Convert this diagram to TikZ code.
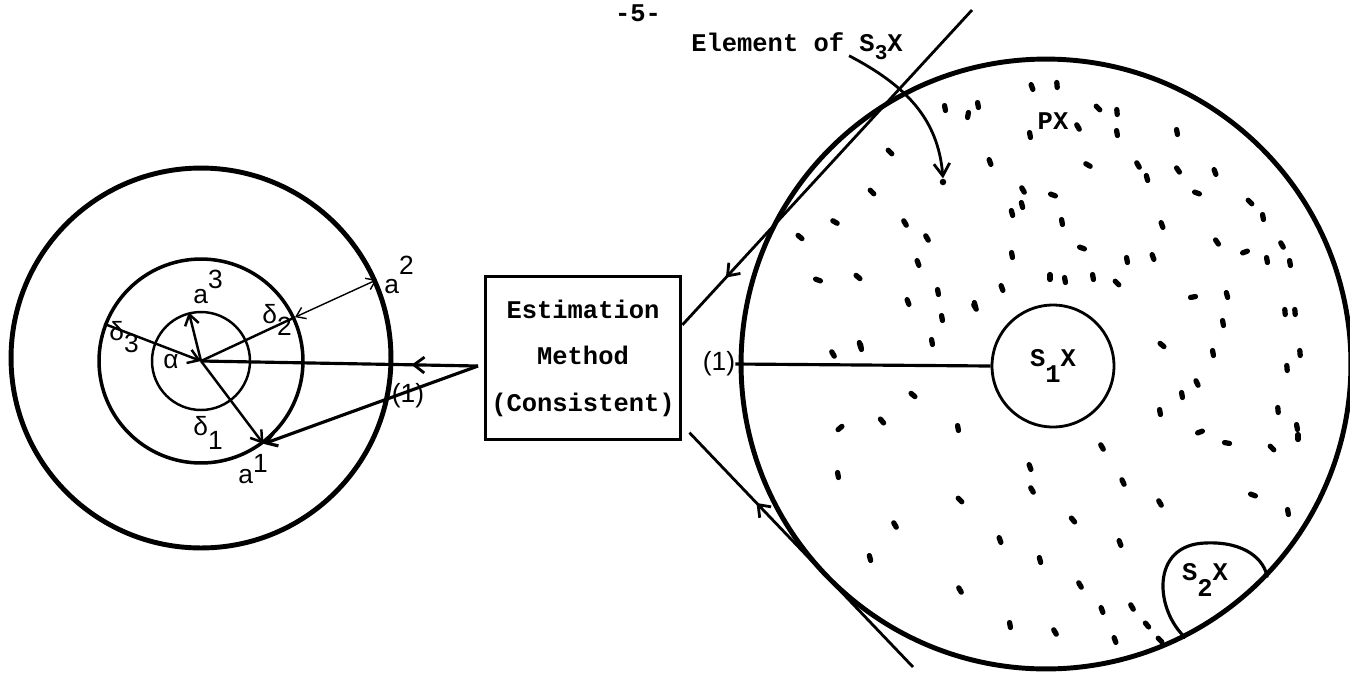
\documentclass[tikz,border=0pt]{standalone}
\usepackage{fontspec}
\setmonofont{Liberation Mono}
\newfontfamily\handfont{Liberation Sans}
\usetikzlibrary{arrows.meta,calc,decorations.markings}

\tikzset{
  ttlabel/.style={font=\ttfamily\bfseries\fontsize{14.5}{18}\selectfont,inner sep=0pt},
  hand/.style={font=\handfont\fontsize{15}{15}\selectfont,inner sep=0pt},
  ring/.style={circle,draw,inner sep=0pt,minimum size=#1},
  barb/.style={-{Straight Barb[length=6pt,width=8pt]}},
  midbarb/.style={postaction={decorate},decoration={markings,mark=at position #1 with {\arrow[line width=1.6pt]{Straight Barb[length=6pt,width=9pt]}}}},
  speck/.style={line width=3pt,line cap=round}
}

\begin{document}
\begin{tikzpicture}[x=0.02cm,y=-0.02cm]
  \useasboundingbox (0,0) rectangle (1350,681);

  % page number and method box
  \node[ttlabel] (pg) at (638,13) {-5-};
  \node[draw,line width=1.7pt,minimum width=3.92cm,minimum height=3.26cm,align=center,
        inner sep=0pt,font=\ttfamily\bfseries\fontsize{14.5}{26.5}\selectfont] (est) at (583,358)
        {Estimation\\Method\\(Consistent)};

  % left: the three circles round alpha
  \coordinate (ctr) at (201,361);
  \node[ring=7.6cm,line width=2.8pt] (outer) at (201,358) {};
  \node[ring=4.08cm,line width=2pt] (mid) at (ctr) {};
  \node[ring=1.96cm,line width=1.4pt] (inner) at (ctr) {};

  \draw[barb,line width=1.4pt] (ctr) -- (inner.104);
  \draw[barb,line width=1.4pt] (mid.159) -- (ctr);
  \draw[line width=1.4pt] (ctr) -- (mid.25);
  \draw[{Straight Barb[length=5pt,width=7pt]}-{Straight Barb[length=5pt,width=7pt]},line width=0.8pt] (mid.25) -- (outer.24);
  \draw[barb,line width=1.4pt] (ctr) -- (mid.-53);

  \coordinate (fork) at (478,366);
  \draw[line width=1.8pt,midbarb=0.24] (fork) -- (ctr);
  \draw[barb,line width=1.8pt] (fork) -- (mid.-53);

  \node[hand] (la3) at (208,287) {a\raisebox{0.55em}{3}};
  \node[hand] (la2) at (399,275) {a\raisebox{0.7em}{2}};
  \node[hand] (la1) at (253,469) {a\raisebox{0.4em}{1}};
  \node[hand] (ld3) at (124,337) {δ\raisebox{-0.45em}{3}};
  \node[hand] (ld2) at (277,320) {δ\raisebox{-0.45em}{2}};
  \node[hand] (ld1) at (208,433) {δ\raisebox{-0.55em}{1}};
  \node[hand] (lal) at (171,362) {α};
  \node[hand] (lone) at (408,396) {(1)};

  % right: PX with S1X and S2X
  \node[ring=12.2cm,line width=2.8pt] (px) at (1046,364) {};
  \node[ring=2.44cm,line width=1.6pt,ttlabel] (s1) at (1053,366) {S\raisebox{-0.6em}{1}X};
  \node[ttlabel] (lpx) at (1053,121) {PX};
  \draw[line width=1.8pt] (px.-63.4) .. controls (1155,610) and (1150,545) .. (1205,543)
        .. controls (1245,541) and (1265,560) .. (px.-44);
  \node[ttlabel] (s2) at (1205,580) {S\raisebox{-0.6em}{2}X};

  \node[hand] (rone) at (719,364) {(1)};
  \draw[line width=1.8pt] (rone.east) -- (s1.west);

  % tangents back to the box
  \coordinate (tanA) at (972,10);
  \coordinate (tanB) at (913,667);
  \draw[line width=1.6pt,midbarb=0.85] (tanA) -- ($(est.north east)!0.3!(est.south east)$);
  \draw[line width=1.6pt,midbarb=0.7] (tanB) -- ($(est.north east)!0.95!(est.south east)+(7,0)$);

  % element of S3X
  \node[ttlabel] (elem) at (797,46) {Element of S\raisebox{-0.3em}{\fontsize{12}{12}\selectfont 3}X};
  \node[circle,fill,inner sep=0pt,minimum size=0.13cm] (el) at (943,182) {};
  \draw[line width=1.6pt,-{Straight Barb[length=7pt,width=9pt]}] ($(elem.south east)+(-54,-4)$)
        .. controls (905,85) and (938,118) .. (el.north);

  % points of PX
  \foreach \x/\y/\a in {945/108/80,968/115/100,978/105/80,890/152/45,872/192/45,835/222/30,
      800/237/40,905/223/60,927/238/60,918/263/70,858/277/40,818/280/20,908/302/70,938/292/80,
      942/318/80,975/305/75,860/345/75,932/342/80,833/354/60,861/347/80,913/395/40,882/421/50,
      840/428/-40,958/428/80,1032/87/70,1057/85/85,1030/135/80,1078/127/60,1098/108/45,
      1117/112/85,1117/133/80,1177/132/80,990/162/70,1088/165/30,1138/165/60,1147/178/75,
      1178/170/55,1215/172/70,1023/190/60,1053/195/20,1022/205/75,1012/213/75,1062/222/80,
      1197/193/20,1250/202/45,1263/217/80,1162/225/70,1217/242/55,1245/252/-20,1267/260/80,
      1282/245/60,1290/263/80,1012/255/80,1082/248/20,1127/260/80,1153/257/70,1050/277/90,
      1065/280/80,1093/277/80,1117/283/45,1002/288/70,1193/297/-10,1227/295/75,975/307/60,
      1285/312/85,1295/312/85,1223/323/80,1162/345/40,1213/353/80,1300/353/85,1287/368/85,
      1197/383/65,1182/395/80,1160/412/80,1278/410/85,1297/427/80,1298/437/90,1200/432/-20,
      1227/443/10,1272/448/45,1102/447/60,1030/467/70,1032/490/60,1123/482/65,1160/503/60,
      1253/495/20,1288/512/80,1073/520/50,960/500/45,838/475/80,895/525/60,870/558/75,
      1132/607/60,1147/625/50,1120/543/70,1000/540/70,1040/560/75,1080/585/60,1102/610/70,
      1010/625/80,1055/632/60,1115/640/70,960/590/60,1160/640/45}
    \draw[speck] (\x,\y) ++(\a:-2.5) -- ++(\a:5);
\end{tikzpicture}
\end{document}
